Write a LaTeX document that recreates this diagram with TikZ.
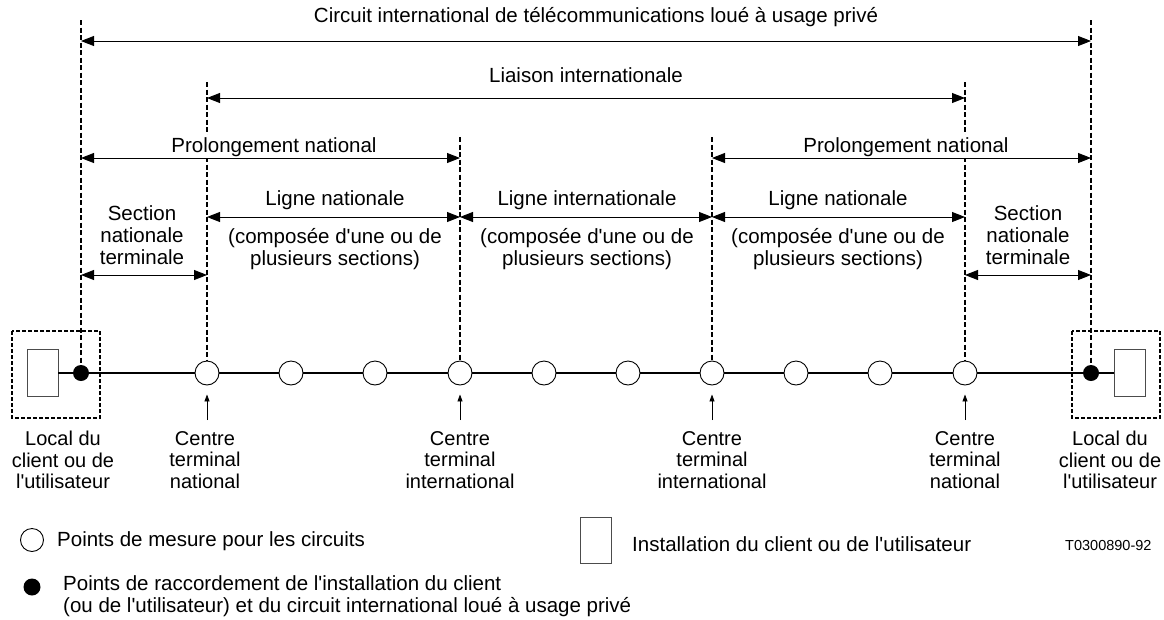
\documentclass[tikz,border=0pt]{standalone}
\usepackage{fontspec}
\setmainfont{Liberation Sans}[Ligatures=TeXOff]
\usetikzlibrary{arrows.meta}

\begin{document}
\begin{tikzpicture}[x=1pt,y=-1pt]
	\tikzstyle{point_mesure} = [circle, draw=black, line width=0.9pt, fill=white, minimum size=24pt, inner sep=0pt]
	\tikzstyle{point_raccord} = [circle, fill=black, minimum size=16pt, inner sep=0pt]
	\tikzstyle{installation} = [rectangle, draw=black!70, line width=0.9pt, minimum width=31pt, minimum height=47pt, inner sep=0pt]
	\tikzstyle{local_box} = [draw=black, line width=1.2pt, dash pattern=on 4pt off 2pt]
	\tikzstyle{limite} = [draw=black, line width=1.2pt, dash pattern=on 5pt off 2.5pt]
	\tikzstyle{ligne} = [draw=black, line width=1.3pt]
	\tikzstyle{cote} = [{Triangle[length=13pt,width=10pt]}-{Triangle[length=13pt,width=10pt]}, line width=0.9pt]
	\tikzstyle{fleche} = [-{Triangle[length=7pt,width=5pt]}, line width=0.8pt, shorten >=9pt]
	\tikzstyle{texte} = [font=\fontsize{20.5}{22}\selectfont, align=center, inner sep=0pt]

	\useasboundingbox (0,0) rectangle (1164,619);

%------------------------------------------------------------
	\draw[local_box] (12,331) rectangle (100,418);
	\draw[local_box] (1072,331) rectangle (1160,418);

	\node[installation] (inst_l) at (42.5,373) {};
	\node[point_raccord] (racc_l) at (81,373) {};

	\node[point_mesure] (m0) at (207,373) {};
	\node[point_mesure] (m1) at (291,373) {};
	\node[point_mesure] (m2) at (375,373) {};
	\node[point_mesure] (m3) at (460,373) {};
	\node[point_mesure] (m4) at (544,373) {};
	\node[point_mesure] (m5) at (628,373) {};
	\node[point_mesure] (m6) at (712,373) {};
	\node[point_mesure] (m7) at (796,373) {};
	\node[point_mesure] (m8) at (880,373) {};
	\node[point_mesure] (m9) at (965,373) {};

	\node[point_raccord] (racc_r) at (1091,373) {};
	\node[installation] (inst_r) at (1129.5,373) {};

	\draw[ligne] (inst_l) -- (racc_l) -- (m0) -- (m1) -- (m2) -- (m3) -- (m4)
		-- (m5) -- (m6) -- (m7) -- (m8) -- (m9) -- (racc_r) -- (inst_r);

%------------------------------------------------------------
	\coordinate (h_l) at (81,20);
	\coordinate (h_0) at (207,82);
	\coordinate (h_3) at (460,137);
	\coordinate (h_6) at (712,137);
	\coordinate (h_9) at (965,82);
	\coordinate (h_r) at (1091,20);

	\draw[limite] (h_l) -- (racc_l);
	\draw[limite] (h_0) -- (m0);
	\draw[limite] (h_3) -- (m3);
	\draw[limite] (h_6) -- (m6);
	\draw[limite] (h_9) -- (m9);
	\draw[limite] (h_r) -- (racc_r);

%------------------------------------------------------------
	\draw[cote] (h_l |- 0,41) -- (h_r |- 0,41);
	\node[texte] (t_circuit) at (596,17) {Circuit international de télécommunications loué à usage privé};

	\draw[cote] (h_0 |- 0,98) -- (h_9 |- 0,98);
	\node[texte] (t_liaison) at (586,75) {Liaison internationale};

	\draw[cote] (h_l |- 0,158) -- (h_3 |- 0,158);
	\draw[cote] (h_6 |- 0,158) -- (h_r |- 0,158);
	\node[texte, fill=white, inner sep=2pt, anchor=base] (t_prol_l) at (274,152) {Prolongement national};
	\node[texte, fill=white, inner sep=2pt, anchor=base] (t_prol_r) at (906,152) {Prolongement national};

	\draw[cote] (h_0 |- 0,217) -- (h_3 |- 0,217);
	\draw[cote] (h_3 |- 0,217) -- (h_6 |- 0,217);
	\draw[cote] (h_6 |- 0,217) -- (h_9 |- 0,217);
	\node[texte] (t_ligne_1) at (335,200) {Ligne nationale};
	\node[texte] (t_ligne_2) at (587,200) {Ligne internationale};
	\node[texte] (t_ligne_3) at (838,200) {Ligne nationale};
	\node[texte] (t_comp_1) at (335,249) {(composée d'une ou de\\plusieurs sections)};
	\node[texte] (t_comp_2) at (587,249) {(composée d'une ou de\\plusieurs sections)};
	\node[texte] (t_comp_3) at (838,249) {(composée d'une ou de\\plusieurs sections)};

	\draw[cote] (h_l |- 0,275) -- (h_0 |- 0,275);
	\draw[cote] (h_9 |- 0,275) -- (h_r |- 0,275);
	\node[texte] (t_sect_l) at (142,235) {Section\\nationale\\terminale};
	\node[texte] (t_sect_r) at (1028,235) {Section\\nationale\\terminale};

%------------------------------------------------------------
	\coordinate (f0) at (207,420);
	\coordinate (f3) at (460,420);
	\coordinate (f6) at (712,420);
	\coordinate (f9) at (965,420);
	\draw[fleche] (f0) -- (m0);
	\draw[fleche] (f3) -- (m3);
	\draw[fleche] (f6) -- (m6);
	\draw[fleche] (f9) -- (m9);

	\node[texte, font=\fontsize{20}{21.5}\selectfont] (t_local_l) at (63,460) {Local du\\client ou de\\l'utilisateur};
	\node[texte, font=\fontsize{20}{21.5}\selectfont] (t_centre_0) at (205,460) {Centre\\terminal\\national};
	\node[texte, font=\fontsize{20}{21.5}\selectfont] (t_centre_3) at (460,460) {Centre\\terminal\\international};
	\node[texte, font=\fontsize{20}{21.5}\selectfont] (t_centre_6) at (712,460) {Centre\\terminal\\international};
	\node[texte, font=\fontsize{20}{21.5}\selectfont] (t_centre_9) at (965,460) {Centre\\terminal\\national};
	\node[texte, font=\fontsize{20}{21.5}\selectfont] (t_local_r) at (1110,460) {Local du\\client ou de\\l'utilisateur};

%------------------------------------------------------------
	\node[point_mesure, minimum size=23pt] (leg_m) at (32,540) {};
	\node[texte, anchor=west] (leg_m_txt) at (57,541) {Points de mesure pour les circuits};

	\node[installation, minimum height=46pt] (leg_i) at (595.5,540) {};
	\node[texte, anchor=west] (leg_i_txt) at (632,544) {Installation du client ou de l'utilisateur};

	\node[texte, font=\fontsize{14.5}{17}\selectfont, anchor=west] (leg_ref) at (1065,545) {T0300890-92};

	\node[point_raccord, minimum size=17pt] (leg_r) at (32,587) {};
	\node[texte, anchor=west, align=left] (leg_r_txt) at (63,596) {Points de raccordement de l'installation du client\\(ou de l'utilisateur) et du circuit international loué à usage privé};

\end{tikzpicture}
\end{document}
